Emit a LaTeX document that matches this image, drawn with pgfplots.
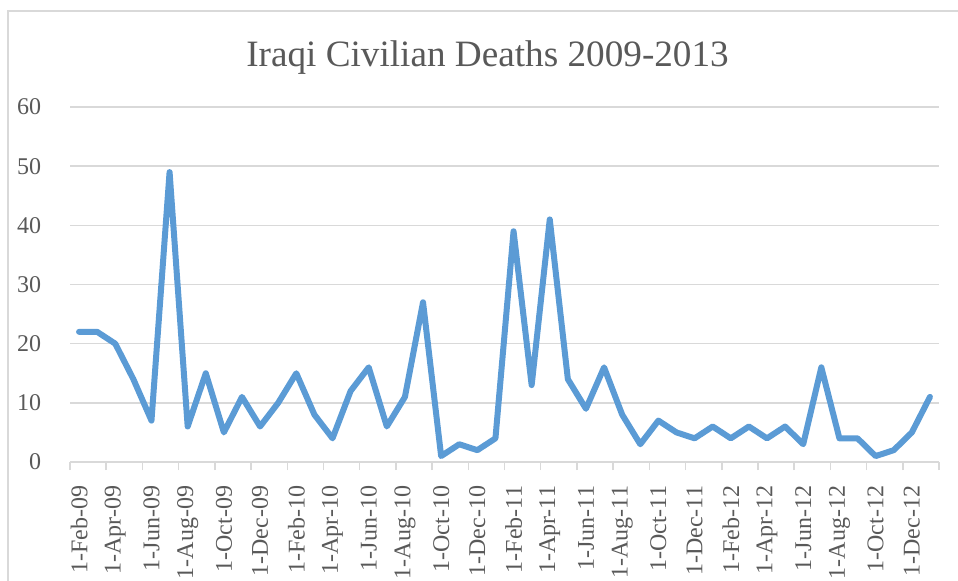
\documentclass[border=0pt]{standalone}
\usepackage{fontspec}
\setmainfont{Liberation Serif}
\usepackage{pgfplots}
\pgfplotsset{compat=1.18}
\definecolor{linecol}{HTML}{5B9BD5}
\definecolor{gridcol}{HTML}{D9D9D9}
\definecolor{txtcol}{HTML}{595959}
\begin{document}
\begin{tikzpicture}
\useasboundingbox (0,0) rectangle (479pt,290pt);
\draw[gridcol, line width=0.6pt] (4pt,-5pt) -- (4pt,284.5pt) -- (485pt,284.5pt);
\node[anchor=base, text=txtcol, font=\fontsize{18.6}{22}\selectfont, inner sep=0pt] at (243.75pt,256.7pt) {Iraqi Civilian Deaths 2009-2013};
\begin{axis}[
  at={(35pt,59pt)}, anchor=south west,
  scale only axis, width=434.5pt, height=177.5pt,
  xmin=-0.5, xmax=47.5, ymin=0, ymax=60,
  axis x line*=bottom, axis y line*=left,
  x axis line style={draw=gridcol, line width=0.75pt},
  y axis line style={draw=none},
  ytick={0,10,...,60},
  ymajorgrids, grid style={gridcol, line width=0.75pt},
  ytick style={draw=none},
  xtick={0,2,...,46},
  xticklabels={1-Feb-09,1-Apr-09,1-Jun-09,1-Aug-09,1-Oct-09,1-Dec-09,
    1-Feb-10,1-Apr-10,1-Jun-10,1-Aug-10,1-Oct-10,1-Dec-10,
    1-Feb-11,1-Apr-11,1-Jun-11,1-Aug-11,1-Oct-11,1-Dec-11,
    1-Feb-12,1-Apr-12,1-Jun-12,1-Aug-12,1-Oct-12,1-Dec-12},
  major x tick style={draw=none},
  minor xtick={-0.5,1.5,...,47.5},
  minor x tick style={draw=gridcol, line width=0.75pt},
  minor tick length=4pt,
  tick align=outside,
  xticklabel style={rotate=90, anchor=east, inner sep=0pt, text=txtcol, font=\fontsize{12}{14}\selectfont},
  xticklabel shift=7.5pt,
  yticklabel style={anchor=east, inner sep=0pt, text=txtcol, font=\fontsize{12}{14}\selectfont},
  yticklabel shift=10pt,
  /pgf/number format/assume math mode=true,
  clip=false,
]
\addplot[linecol, line width=3pt, line join=round, line cap=round] coordinates {
(0,22)(1,22)(2,20)(3,14)(4,7)(5,49)(6,6)(7,15)(8,5)(9,11)(10,6)(11,10)
(12,15)(13,8)(14,4)(15,12)(16,16)(17,6)(18,11)(19,27)(20,1)(21,3)(22,2)(23,4)
(24,39)(25,13)(26,41)(27,14)(28,9)(29,16)(30,8)(31,3)(32,7)(33,5)(34,4)(35,6)
(36,4)(37,6)(38,4)(39,6)(40,3)(41,16)(42,4)(43,4)(44,1)(45,2)(46,5)(47,11)
};
\end{axis}
\end{tikzpicture}
\end{document}
